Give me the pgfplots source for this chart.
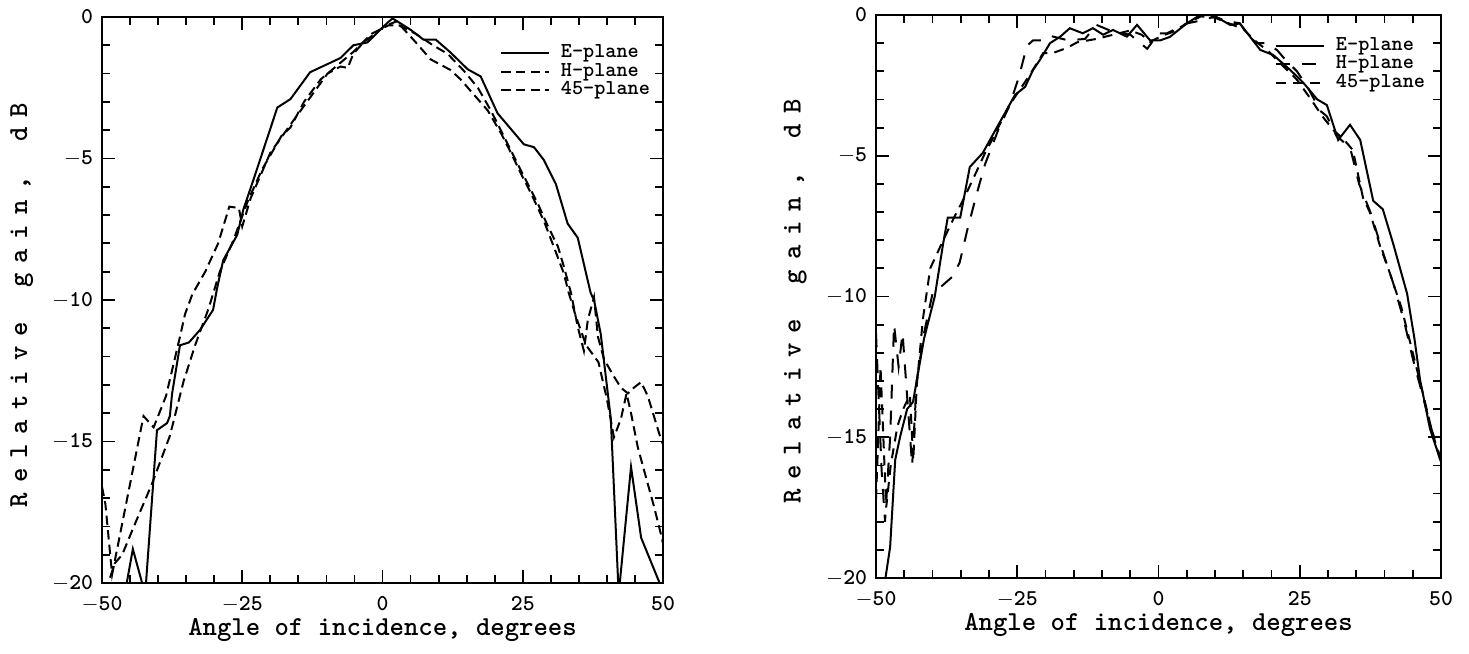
\documentclass[border=0pt]{standalone}
\usepackage{pgfplots}
\pgfplotsset{compat=1.18}

% letter-spaced text for the rotated y label
\newcommand\lsp{5pt}
\def\spacedloop#1{\ifx#1\relax\else#1\kern\lsp\expandafter\spacedloop\fi}

\pgfplotsset{
  gainplot/.style={
    scale only axis,
    xmin=-50, xmax=50, ymin=-20, ymax=0,
    xtick={-50,-25,0,25,50},
    xticklabels={\ensuremath{-}50,\ensuremath{-}25,0,25,50},
    ytick={-20,-15,-10,-5,0},
    yticklabels={\ensuremath{-}20,\ensuremath{-}15,\ensuremath{-}10,\ensuremath{-}5,0},
    minor x tick num=4, minor y tick num=4,
    major tick length=6.5pt, minor tick length=4pt,
    tick align=inside,
    every tick/.style={line width=0.9pt, black},
    axis line style={line width=1pt},
    ticklabel style={font=\ttfamily\bfseries\fontsize{11.3}{13}\selectfont, inner sep=1pt},
    xticklabel style={yshift=-5.3pt},
    yticklabel style={xshift=-3.3pt},
    label style={font=\ttfamily\bfseries\fontsize{13.7}{16}\selectfont, inner sep=1pt},
    xlabel={Angle of incidence, degrees},
    ylabel={\spacedloop Relative~gain,~dB\relax},
    xlabel style={at={(axis description cs:0.5,-0.083)}, anchor=center},
    ylabel style={at={(axis description cs:-0.143,0.5)}, anchor=center},
    legend cell align=left,
    legend style={draw=none, fill=none, inner sep=0pt, row sep=0pt,
      nodes={inner sep=0.3pt, text height=6.6pt, text depth=2.2pt},
      font=\ttfamily\bfseries\fontsize{10.6}{12}\selectfont,
      anchor=north east},
    legend image code/.code={\draw[#1] (0pt,0pt) -- (24pt,0pt); \path (29pt,0pt);},
    every axis plot/.append style={line width=1pt, black},
  }
}

\begin{document}
\begin{tikzpicture}
\path[use as bounding box] (0,0) rectangle (734.5pt,327pt);

% left panel
\begin{axis}[gainplot, at={(51pt,35.5pt)}, anchor=south west,
  width=280.5pt, height=283pt,
  legend style={at={(axis description cs:0.9786,0.954)}}]
\addplot[solid] coordinates {
(-46.5,-21.0) (-44.5,-18.8) (-42.3,-20.4) (-40.2,-14.6) (-38.4,-14.35)
(-37.9,-14.1) (-37.5,-13.3) (-36.1,-11.6) (-34.5,-11.5) (-32.5,-11.05)
(-30.2,-10.35) (-29.5,-9.6) (-28.4,-8.6) (-25.9,-7.7) (-24.8,-6.8)
(-23.0,-5.75) (-18.75,-3.2) (-16.4,-2.9) (-12.9,-1.95) (-7.5,-1.45)
(-5.2,-1.0) (-2.7,-0.9) (0.9,-0.2) (1.8,-0.05) (5.0,-0.45) (7.3,-0.8)
(9.5,-0.8) (12.1,-1.25) (15.2,-1.85) (17.5,-2.1) (20.5,-3.4) (25.2,-4.5)
(27.0,-4.6) (28.75,-5.05) (30.9,-5.9) (33.0,-7.3) (34.8,-7.8) (37.1,-9.75)
(37.7,-10.0) (38.9,-11.2) (40.7,-14.2) (42.1,-20.4) (44.3,-15.9)
(46.1,-18.4) (49.6,-20.1)
};
\addlegendentry{E-plane}
\addplot[dash pattern=on 4.7pt off 2.6pt] coordinates {
(-50,-16.6) (-49.4,-17.2) (-48.2,-19.7) (-46.8,-18.3) (-44.5,-16.0)
(-42.6,-14.1) (-40.8,-14.5) (-38.6,-13.4) (-36.1,-11.3) (-35.2,-10.5)
(-33.9,-9.8) (-31.6,-9.0) (-29.3,-8.0) (-27.3,-6.7) (-25.6,-6.75)
(-25.0,-7.4) (-23.5,-6.4) (-20,-4.8) (-16.4,-3.8) (-12,-2.6) (-9.8,-2.0)
(-7.5,-1.75) (-6.2,-1.8) (-5.2,-1.3) (-3.4,-0.9) (0.2,-0.35) (2.5,-0.15)
(5.5,-0.8) (8.6,-1.5) (12.1,-1.87) (13.9,-2.2) (16.1,-2.7) (18.75,-3.3)
(21.1,-4.1) (22.9,-4.8) (24.6,-5.5) (26.4,-6.2) (28.75,-7.2) (30.5,-8.1)
(32.3,-9.05) (33.2,-9.75) (34.5,-10.6) (36.3,-11.6) (38.5,-12.2)
(40.0,-13.5) (41.25,-14.85) (42.5,-14.2) (43.5,-13.3) (44.3,-14.0)
(45.5,-15.2) (46.6,-16.0) (48.4,-17.3) (49.6,-18.25) (50,-18.6)
};
\addlegendentry{H-plane}
\addplot[dash pattern=on 4.7pt off 2.6pt] coordinates {
(-49.4,-20.3) (-47.7,-19.3) (-46.4,-19.0) (-44.1,-17.9) (-41.1,-16.5)
(-37.9,-14.8) (-35.5,-12.9) (-33.4,-11.6) (-31.0,-10.3) (-29.0,-9.0)
(-26.6,-7.9) (-24.0,-6.5) (-21.5,-5.4) (-18.0,-4.2) (-16.4,-3.9)
(-14,-3.0) (-11,-2.2) (-8,-1.7) (-5,-1.2) (-2,-0.6) (1,-0.3) (3,-0.3)
(6,-0.6) (9,-1.0) (11.6,-1.3) (14.5,-1.9) (17.0,-2.5) (19.3,-3.3)
(21.6,-4.2) (24.1,-5.2) (25.9,-5.9) (27.7,-6.6) (29.5,-7.4) (31.25,-8.1)
(32.3,-8.8) (33.6,-9.75) (34.8,-10.95) (35.9,-11.8) (36.6,-10.7)
(37.7,-9.9) (38.4,-11.3) (39.5,-12.1) (41.25,-12.7) (42.5,-13.1)
(43.75,-13.3) (44.8,-13.1) (46.1,-12.9) (47.3,-13.4) (49.6,-14.9) (50,-15.1)
};
\addlegendentry{45-plane}
\end{axis}

% right panel
\begin{axis}[gainplot, at={(438pt,38pt)}, anchor=south west,
  width=282.5pt, height=281.5pt,
  legend style={at={(axis description cs:0.9735,0.963)}}]
\addplot[solid] coordinates {
(-48.4,-20.1) (-47.5,-18.9) (-46.6,-15.8) (-45.75,-15.0) (-44.5,-14.0)
(-43.45,-13.75) (-41.5,-11.5) (-39.6,-10.0) (-38.1,-8.1) (-37.3,-7.2)
(-35.1,-7.2) (-33.4,-5.4) (-31.1,-4.9) (-28.9,-4.1) (-27.5,-3.6)
(-25.4,-2.84) (-23.6,-2.55) (-22.2,-1.95) (-21,-1.6) (-19.2,-1.0)
(-17.4,-0.77) (-15.7,-0.47) (-13.4,-0.65) (-11.6,-0.47) (-9.8,-0.7)
(-8.05,-0.53) (-5.6,-0.77) (-3.8,-0.35) (-1.5,-0.9) (0.3,-0.9) (2.0,-0.78)
(5.0,-0.3) (7.35,0) (9.65,0) (12.65,-0.35) (14.4,-0.3) (18,-1.24)
(20.3,-1.42) (23.3,-1.95) (25.6,-2.4) (28.1,-3.0) (29.8,-3.2) (31.8,-4.44)
(33.9,-3.9) (35.7,-4.44) (38.0,-6.6) (39.7,-6.9) (41.5,-8.1) (44.0,-9.9)
(45.3,-11.5) (46.3,-12.97) (48.05,-14.7) (50.2,-16.0)
};
\addlegendentry{E-plane}
\addplot[dash pattern=on 7pt off 6pt] coordinates {
(-50,-11.3) (-49.5,-13.8) (-49,-16.2) (-48.4,-18.0) (-47.5,-15.0)
(-46.8,-11.0) (-46.0,-12.5) (-45.3,-11.3) (-44.4,-13.8) (-43.6,-16.0)
(-42.8,-13.0) (-41.5,-11.3) (-40.0,-9.9) (-38.2,-9.6) (-36.5,-9.3)
(-35.2,-8.8) (-33.8,-7.6) (-32.1,-6.3) (-30.7,-5.3) (-28.4,-4.1)
(-26.8,-3.4) (-25.7,-2.8) (-24.7,-2.2) (-23.3,-1.1) (-22.2,-0.9)
(-20.5,-0.9) (-19.0,-0.75) (-16,-0.9) (-13,-0.85) (-11,-0.35) (-8,-0.6)
(-5,-0.7) (-3.8,-0.9) (-2,-1.2) (0,-0.65) (1.5,-0.65) (3.5,-0.45)
(5,-0.3) (8.6,-0.15) (9.7,-0.05) (12,-0.2) (14.4,-0.3) (16.2,-0.8)
(17.4,-1.0) (19.2,-1.0) (21,-1.25) (22.5,-1.6) (24.5,-2.0) (26.5,-2.6)
(28.6,-3.4) (29.8,-3.6) (31.5,-4.3) (33.9,-4.7) (35.5,-6.0) (37.5,-7.0)
(39.5,-8.3) (41.5,-9.5) (43.5,-10.9) (45,-12.2) (46.6,-13.4) (48.3,-14.7)
(50,-15.8)
};
\addlegendentry{H-plane}
\addplot[dash pattern=on 5pt off 3.5pt] coordinates {
(-50,-17.2) (-49.6,-15.0) (-49.2,-12.5) (-48.8,-14.5) (-48.2,-17.5)
(-47.4,-16.0) (-46.2,-14.6) (-45.2,-14.0) (-44.0,-13.5) (-43.4,-15.8)
(-42.8,-13.2) (-41.7,-10.8) (-40.4,-9.0) (-38.1,-8.0) (-36.2,-7.2)
(-34.4,-6.5) (-32.3,-5.6) (-30.7,-4.9) (-29.1,-4.3) (-27.4,-3.6)
(-25.7,-3.0) (-22.7,-2.1) (-20.4,-1.35) (-18.7,-1.35) (-16.2,-1.17)
(-14.4,-0.97) (-11,-0.85) (-8,-0.7) (-5,-0.55) (-3,-0.7) (-1.5,-0.95)
(0.5,-0.75) (2.5,-0.6) (5,-0.3) (7.5,-0.05) (10,-0.1) (12.5,-0.3)
(15,-0.5) (17,-0.9) (19.5,-1.3) (22,-1.8) (24.5,-2.3) (27,-3.0)
(29,-3.6) (31,-4.1) (32.7,-4.4) (34.4,-4.8) (36.2,-6.5) (37.4,-7.0)
(39.2,-8.2) (41.0,-9.2) (43,-10.4) (45,-12.0) (46.5,-13.2) (48.3,-14.7)
(50,-15.9)
};
\addlegendentry{45-plane}
\end{axis}
\end{tikzpicture}
\end{document}
